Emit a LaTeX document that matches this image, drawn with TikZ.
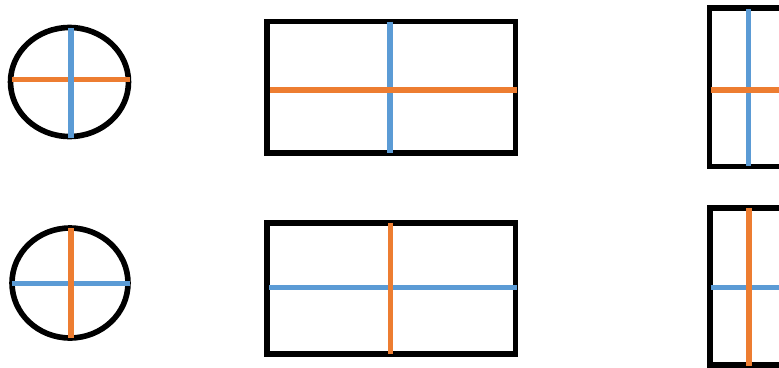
\documentclass[tikz,border=0pt]{standalone}
\definecolor{offorange}{HTML}{ED7D31}
\definecolor{offblue}{HTML}{5B9BD5}
\tikzset{
  outline/.style={draw=black, line width=5.6pt},
  oline/.style={draw=offorange, line width=5.6pt},
  bline/.style={draw=offblue, line width=5.6pt}
}
\begin{document}
\begin{tikzpicture}[x=1pt, y=-1pt]
\path[use as bounding box] (0,0) rectangle (779,367);
\clip (0,0) rectangle (779,367);
% top ellipse
\draw[outline] (69.5,82) ellipse [x radius=59, y radius=54.5];
\draw[oline] (12,79.3) -- (130,79.3);
\draw[bline] (70.7,28) -- (70.7,138);
% bottom ellipse
\draw[outline] (70,283) ellipse [x radius=58, y radius=55];
\draw[bline] (11.7,283.3) -- (130,283.3);
\draw[oline] (70.7,228.3) -- (70.7,338.3);
% top middle rectangle
\draw[outline] (267,21.3) rectangle (515.3,153);
\draw[bline] (390,21.7) -- (390,153.3);
\draw[oline] (270,89.7) -- (516.7,89.7);
% bottom middle rectangle
\draw[outline] (267,222.7) rectangle (515.3,353.8);
\draw[bline] (269,287.3) -- (516.7,287.3);
\draw[oline] (390.3,222.7) -- (390.3,354.3);
% top right rectangle (cut off)
\draw[outline] (709.5,8) rectangle (880,166.3);
\draw[bline] (748.3,9) -- (748.3,165.7);
\draw[oline] (710.7,89.7) -- (790,89.7);
% bottom right rectangle (cut off)
\draw[outline] (710,208) rectangle (880,364.7);
\draw[bline] (710.7,287.3) -- (790,287.3);
\draw[oline] (748.7,208.3) -- (748.7,365.7);
\end{tikzpicture}
\end{document}
